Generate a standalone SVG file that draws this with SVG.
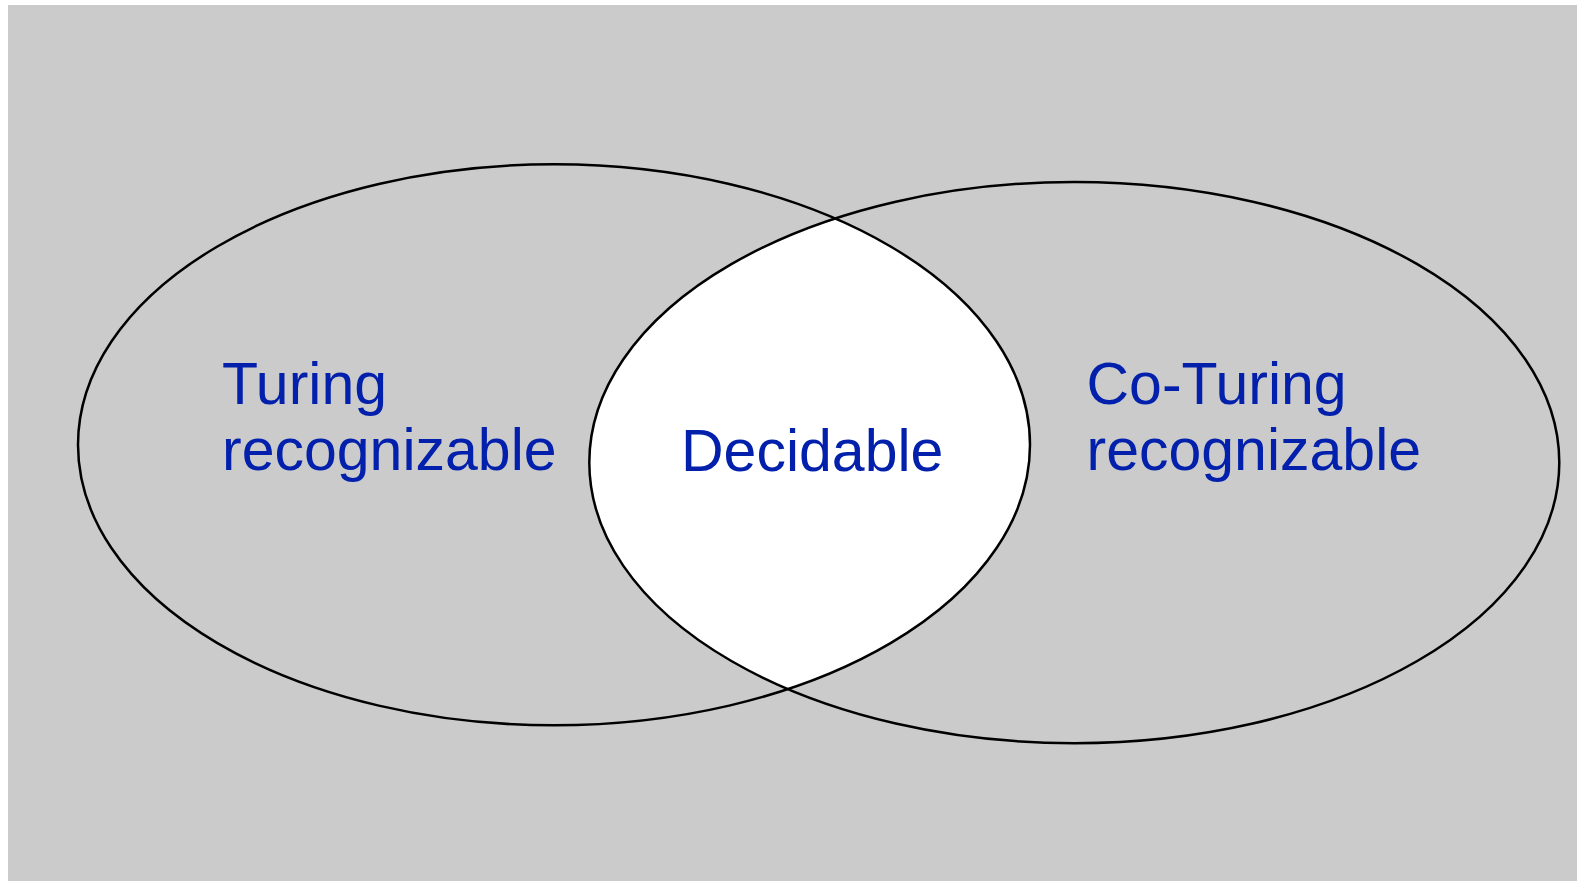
<svg xmlns="http://www.w3.org/2000/svg" width="1577" height="881" viewBox="0 0 1577 881">
  <style>
    .set { fill: none; stroke: #000; stroke-width: 2.5; }
    .label { font-family: "Liberation Sans", Arial, sans-serif; font-size: 59px; fill: #0220ab; }
  </style>
  <defs>
    <clipPath id="clip-right">
      <ellipse cx="1074.3" cy="462.6" rx="485" ry="280.6"/>
    </clipPath>
  </defs>
  <rect x="0" y="0" width="1577" height="881" fill="#ffffff"/>
  <rect x="8" y="5" width="1569" height="876" fill="#cbcbcb"/>

  <!-- overlap of the two sets -->
  <g id="intersection">
    <ellipse cx="554" cy="444.8" rx="476" ry="280.5" fill="#ffffff" clip-path="url(#clip-right)"/>
  </g>

  <g id="turing-recognizable">
    <ellipse class="set" cx="554" cy="444.8" rx="476" ry="280.5"/>
    <text class="label" x="222" y="403.5">Turing</text>
    <text class="label" x="222" y="470">recognizable</text>
  </g>

  <g id="co-turing-recognizable">
    <ellipse class="set" cx="1074.3" cy="462.6" rx="485" ry="280.6"/>
    <text class="label" x="1086.5" y="403.5">Co-Turing</text>
    <text class="label" x="1086.5" y="470">recognizable</text>
  </g>

  <g id="decidable">
    <text class="label" x="681" y="470.5">Decidable</text>
  </g>

  <g id="connectors"/>
</svg>
